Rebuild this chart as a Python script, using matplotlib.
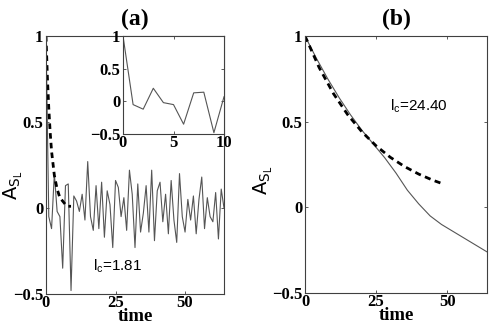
import matplotlib
matplotlib.use("Agg")
import matplotlib.pyplot as plt
import numpy as np

# ---------------- data ----------------
# panel (a): autocorrelation time series (integer time steps)
time_a = list(range(0, 65))
acf_a = [1.00, -0.05, -0.12, 0.20, -0.02, -0.05, -0.35, 0.13, 0.14, -0.48,
         0.07, 0.04, -0.02, 0.08, -0.07, 0.27, -0.05, -0.13, 0.13, -0.12,
         0.15, -0.17, 0.10, 0.02, -0.23, 0.16, 0.12, -0.05, 0.06, -0.13,
         0.22, 0.08, -0.23, 0.14, -0.14, -0.03, 0.13, -0.14, 0.22, -0.19,
         0.10, 0.15, -0.08, 0.08, -0.15, 0.16, -0.07, -0.20, 0.20, -0.05,
         -0.14, 0.05, -0.07, 0.07, -0.15, 0.05, 0.18, -0.12, 0.06, -0.05,
         -0.08, 0.09, -0.18, 0.11, 0.00]
# panel (a): exponential fit (dashed)
fit_t_a = [0, 0.5, 1, 1.5, 2, 3, 4, 5, 6, 7, 8, 9]
fit_a = [1.00, 0.76, 0.58, 0.44, 0.33, 0.19, 0.11, 0.06, 0.04, 0.02, 0.01, 0.01]
lc_a = "1.81"

# panel (b)
time_b = [0, 4, 8, 12, 16, 20, 24, 28, 32, 36, 40, 44, 48, 52, 56, 60, 64]
acf_b = [1.00, 0.87, 0.75, 0.64, 0.54, 0.45, 0.37, 0.29, 0.20, 0.10, 0.02,
         -0.05, -0.10, -0.14, -0.18, -0.22, -0.26]
fit_t_b = [0, 5, 10, 15, 20, 25, 30, 35, 40, 45, 49]
fit_b = [1.00, 0.815, 0.664, 0.541, 0.441, 0.359, 0.292, 0.238, 0.194, 0.158, 0.134]
lc_b = "24.40"

xticks_main = [0, 25, 50]
yticks = [-0.5, 0, 0.5, 1]
ytick_labels = ["\u22120.5", "0", "0.5", "1"]
xticks_inset = [0, 5, 10]

# ---------------- style ----------------
serif = "Liberation Serif"
sans = "Liberation Sans"
plt.rcParams["mathtext.fontset"] = "custom"
plt.rcParams["mathtext.rm"] = sans
plt.rcParams["mathtext.it"] = sans
line_col = "#555555"
spine_col = "#404040"

fig = plt.figure(figsize=(4.91, 3.27), dpi=100)


def style_axes(ax, xticks, fs=12):
    ax.set_yticks(yticks)
    ax.set_yticklabels(ytick_labels)
    ax.set_xticks(xticks)
    ax.set_xticklabels([str(v) for v in xticks])
    for lab in ax.get_xticklabels() + ax.get_yticklabels():
        lab.set_fontfamily(serif)
        lab.set_fontweight("bold")
        lab.set_fontsize(fs)
    ax.tick_params(direction="in", length=2.5, width=0.6, colors=spine_col,
                   labelcolor="black", top=True, right=True)
    ax.tick_params(axis="x", pad=1)
    ax.tick_params(axis="y", pad=2)
    for s in ax.spines.values():
        s.set_color(spine_col)
        s.set_linewidth(0.8)


def ylab(ax, x, y):
    ax.set_ylabel(r"$\mathregular{A_{S_L}}$", fontsize=14)
    ax.yaxis.set_label_coords(x, y)


# panel a
axa = fig.add_axes([46 / 491, 1 - 294 / 327, 178 / 491, 258 / 327])
axa.plot(time_a, acf_a, color=line_col, lw=0.8)
axa.plot(fit_t_a, fit_a, color="black", lw=2.0, ls=(0, (2, 1.5)))
axa.set_xlim(0, 64)
axa.set_ylim(-0.5, 1)
style_axes(axa, xticks_main)
axa.set_title("(a)", fontfamily=serif, fontweight="bold", fontsize=17, pad=8)
axa.set_xlabel("time", fontfamily=serif, fontweight="bold", fontsize=13.5, labelpad=-2.5)
ylab(axa, -0.118, 0.42)
axa.text(16.9, -0.34, r"$\mathregular{l_c}$=" + lc_a, fontfamily=sans, fontsize=11,
         va="center", ha="left")

# inset
axi = fig.add_axes([123 / 491, 1 - 134 / 327, 101 / 491, 98 / 327])
axi.plot(time_a[:11], acf_a[:11], color=line_col, lw=0.8)
axi.set_xlim(0, 10)
axi.set_ylim(-0.5, 1)
style_axes(axi, xticks_inset)

# panel b
axb = fig.add_axes([305 / 491, 1 - 293 / 327, 182 / 491, 257 / 327])
axb.plot(time_b, acf_b, color=line_col, lw=0.8)
axb.plot(fit_t_b, fit_b, color="black", lw=2.0, ls=(0, (2.2, 1.6)))
axb.set_xlim(0, 64)
axb.set_ylim(-0.5, 1)
style_axes(axb, xticks_main)
axb.set_title("(b)", fontfamily=serif, fontweight="bold", fontsize=17, pad=8)
axb.set_xlabel("time", fontfamily=serif, fontweight="bold", fontsize=13.5, labelpad=-2.5)
ylab(axb, -0.165, 0.44)
axb.text(29.9, 0.59, r"$\mathregular{l_c}$=" + lc_b, fontfamily=sans, fontsize=11,
         va="center", ha="left")

fig.savefig("out.png", dpi=100)
